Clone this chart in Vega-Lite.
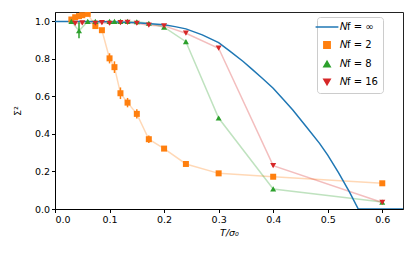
{
  "$schema": "https://vega.github.io/schema/vega-lite/v6.json",
  "width": 348,
  "height": 197,
  "autosize": {"type": "none"},
  "padding": {"left": 55, "top": 12, "right": 13, "bottom": 48},
  "background": "white",
  "config": {
    "view": {"stroke": "#222", "strokeWidth": 1},
    "font": "DejaVu Sans",
    "axis": {
      "grid": false, "domainColor": "#000", "tickColor": "#000", "labelColor": "#000",
      "titleColor": "#000", "labelFont": "DejaVu Sans", "labelFontSize": 9.5, "tickSize": 3.5,
      "labelPadding": 2, "titleFont": "DejaVu Sans", "titleFontSize": 9.5, "titleFontWeight": "normal"
    },
    "legend": {"labelFont": "DejaVu Sans", "labelFontSize": 10, "labelColor": "#000"}
  },
  "data": {
    "values": [
      {"s": "inf", "x": 0.0, "y": 1.0},
      {"s": "inf", "x": 0.05, "y": 1.0},
      {"s": "inf", "x": 0.1, "y": 0.998},
      {"s": "inf", "x": 0.15, "y": 0.993},
      {"s": "inf", "x": 0.2, "y": 0.982},
      {"s": "inf", "x": 0.22, "y": 0.972},
      {"s": "inf", "x": 0.24, "y": 0.96},
      {"s": "inf", "x": 0.27, "y": 0.928},
      {"s": "inf", "x": 0.3, "y": 0.887},
      {"s": "inf", "x": 0.32, "y": 0.843},
      {"s": "inf", "x": 0.345, "y": 0.786},
      {"s": "inf", "x": 0.36, "y": 0.748},
      {"s": "inf", "x": 0.38, "y": 0.697},
      {"s": "inf", "x": 0.4, "y": 0.644},
      {"s": "inf", "x": 0.42, "y": 0.58},
      {"s": "inf", "x": 0.436, "y": 0.528},
      {"s": "inf", "x": 0.46, "y": 0.441},
      {"s": "inf", "x": 0.485, "y": 0.35},
      {"s": "inf", "x": 0.5, "y": 0.287},
      {"s": "inf", "x": 0.52, "y": 0.193},
      {"s": "inf", "x": 0.54, "y": 0.09},
      {"s": "inf", "x": 0.556, "y": 0.0},
      {"s": "inf", "x": 0.66, "y": 0.0},

      {"s": "2", "x": 0.030, "y": 1.010, "lo": 0.998, "hi": 1.022},
      {"s": "2", "x": 0.037, "y": 1.022, "lo": 1.012, "hi": 1.032},
      {"s": "2", "x": 0.044, "y": 1.028, "lo": 1.018, "hi": 1.038},
      {"s": "2", "x": 0.050, "y": 1.033, "lo": 1.023, "hi": 1.043},
      {"s": "2", "x": 0.060, "y": 1.040, "lo": 1.032, "hi": 1.048},
      {"s": "2", "x": 0.074, "y": 0.975, "lo": 0.963, "hi": 0.987},
      {"s": "2", "x": 0.086, "y": 0.953, "lo": 0.943, "hi": 0.963},
      {"s": "2", "x": 0.100, "y": 0.803, "lo": 0.776, "hi": 0.830},
      {"s": "2", "x": 0.109, "y": 0.756, "lo": 0.725, "hi": 0.787},
      {"s": "2", "x": 0.120, "y": 0.617, "lo": 0.586, "hi": 0.648},
      {"s": "2", "x": 0.133, "y": 0.567, "lo": 0.542, "hi": 0.592},
      {"s": "2", "x": 0.150, "y": 0.507, "lo": 0.483, "hi": 0.531},
      {"s": "2", "x": 0.172, "y": 0.372, "lo": 0.352, "hi": 0.392},
      {"s": "2", "x": 0.200, "y": 0.322, "lo": 0.314, "hi": 0.330},
      {"s": "2", "x": 0.240, "y": 0.240, "lo": 0.234, "hi": 0.246},
      {"s": "2", "x": 0.300, "y": 0.190, "lo": 0.185, "hi": 0.195},
      {"s": "2", "x": 0.400, "y": 0.172, "lo": 0.167, "hi": 0.177},
      {"s": "2", "x": 0.600, "y": 0.137, "lo": 0.132, "hi": 0.142},

      {"s": "8", "x": 0.030, "y": 1.000, "lo": 0.995, "hi": 1.005},
      {"s": "8", "x": 0.044, "y": 0.950, "lo": 0.910, "hi": 0.995},
      {"s": "8", "x": 0.060, "y": 1.000, "lo": 0.994, "hi": 1.006},
      {"s": "8", "x": 0.074, "y": 1.000, "lo": 0.995, "hi": 1.005},
      {"s": "8", "x": 0.100, "y": 1.000, "lo": 0.995, "hi": 1.005},
      {"s": "8", "x": 0.109, "y": 1.000, "lo": 0.995, "hi": 1.005},
      {"s": "8", "x": 0.120, "y": 1.000, "lo": 0.995, "hi": 1.005},
      {"s": "8", "x": 0.133, "y": 1.000, "lo": 0.995, "hi": 1.005},
      {"s": "8", "x": 0.150, "y": 0.998, "lo": 0.993, "hi": 1.003},
      {"s": "8", "x": 0.172, "y": 0.990, "lo": 0.985, "hi": 0.995},
      {"s": "8", "x": 0.200, "y": 0.969, "lo": 0.964, "hi": 0.974},
      {"s": "8", "x": 0.240, "y": 0.892, "lo": 0.887, "hi": 0.897},
      {"s": "8", "x": 0.300, "y": 0.485, "lo": 0.480, "hi": 0.490},
      {"s": "8", "x": 0.400, "y": 0.107, "lo": 0.102, "hi": 0.112},
      {"s": "8", "x": 0.600, "y": 0.037, "lo": 0.027, "hi": 0.047},

      {"s": "16", "x": 0.037, "y": 0.990, "lo": 0.980, "hi": 1.000},
      {"s": "16", "x": 0.050, "y": 0.992, "lo": 0.984, "hi": 1.000},
      {"s": "16", "x": 0.074, "y": 0.990, "lo": 0.980, "hi": 1.000},
      {"s": "16", "x": 0.086, "y": 0.993, "lo": 0.985, "hi": 1.001},
      {"s": "16", "x": 0.100, "y": 0.990, "lo": 0.982, "hi": 0.998},
      {"s": "16", "x": 0.120, "y": 0.993, "lo": 0.985, "hi": 1.001},
      {"s": "16", "x": 0.133, "y": 0.995, "lo": 0.987, "hi": 1.003},
      {"s": "16", "x": 0.150, "y": 0.990, "lo": 0.982, "hi": 0.998},
      {"s": "16", "x": 0.172, "y": 0.980, "lo": 0.974, "hi": 0.986},
      {"s": "16", "x": 0.200, "y": 0.976, "lo": 0.971, "hi": 0.981},
      {"s": "16", "x": 0.240, "y": 0.937, "lo": 0.932, "hi": 0.942},
      {"s": "16", "x": 0.300, "y": 0.857, "lo": 0.852, "hi": 0.862},
      {"s": "16", "x": 0.400, "y": 0.231, "lo": 0.226, "hi": 0.236},
      {"s": "16", "x": 0.600, "y": 0.035, "lo": 0.028, "hi": 0.042}
    ]
  },
  "encoding": {
    "x": {"field": "x", "type": "quantitative",
      "scale": {"domain": [0, 0.638], "nice": false, "zero": false},
      "axis": {"values": [0, 0.1, 0.2, 0.3, 0.4, 0.5, 0.6], "format": ".1f", "title": "T/σ₀", "titleFontStyle": "italic", "titlePadding": 3}},
    "y": {"field": "y", "type": "quantitative",
      "scale": {"domain": [0, 1.05], "nice": false, "zero": false},
      "axis": {"values": [0, 0.2, 0.4, 0.6, 0.8, 1.0], "format": ".1f", "title": "Σ²", "titlePadding": 12}},
    "color": {"field": "s", "type": "nominal",
      "scale": {"domain": ["inf", "2", "8", "16"], "range": ["#1f77b4", "#ff7f0e", "#2ca02c", "#d62728"]},
      "legend": {
        "title": null, "orient": "none", "legendX": 262, "legendY": 5,
        "labelExpr": "datum.value == 'inf' ? '𝑁f = ∞' : '𝑁f = ' + datum.value",
        "padding": 5, "rowPadding": 6, "strokeColor": "#ccc", "fillColor": "rgba(255,255,255,0.85)",
        "cornerRadius": 3, "symbolStrokeWidth": 1.5, "labelOffset": 8,
        "encode": {"symbols": {"update": {
          "size": {"signal": "datum.value == 'inf' ? 520 : 40"},
          "stroke": {"signal": "datum.value == 'inf' ? '#1f77b4' : 'transparent'"}
        }}}
      }
    }
  },
  "layer": [
    {
      "transform": [{"filter": "datum.s != 'inf'"}],
      "mark": {"type": "line", "strokeWidth": 1.5, "opacity": 0.3, "clip": true},
      "encoding": {"detail": {"field": "s"}}
    },
    {
      "transform": [{"filter": "datum.s == 'inf'"}],
      "mark": {"type": "line", "strokeWidth": 1.5, "clip": true}
    },
    {
      "transform": [{"filter": "datum.s != 'inf'"}],
      "mark": {"type": "rule", "strokeWidth": 1.5, "clip": true},
      "encoding": {"y": {"field": "lo", "type": "quantitative"}, "y2": {"field": "hi"}}
    },
    {
      "transform": [{"filter": "datum.s != 'inf'"}],
      "mark": {"type": "point", "filled": true, "size": 36, "opacity": 1, "clip": true},
      "encoding": {
        "shape": {"field": "s", "type": "nominal",
          "scale": {"domain": ["inf", "2", "8", "16"], "range": ["stroke", "square", "triangle-up", "triangle-down"]}}
      }
    }
  ]
}
